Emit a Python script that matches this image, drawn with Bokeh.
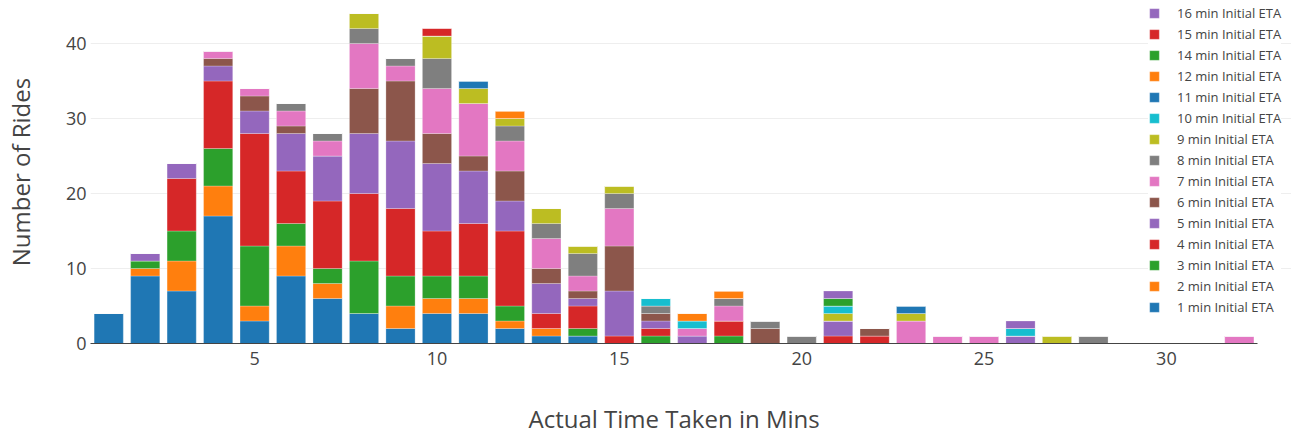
from bokeh.plotting import figure
from bokeh.models import ColumnDataSource, Legend, LegendItem, Range1d, FixedTicker, Title
from bokeh.embed import file_html
from bokeh.resources import INLINE

x = list(range(1, 33))

eta1 = [4, 9, 7, 17, 3, 9, 6, 4, 2, 4, 4, 2, 1, 1, 0, 0, 0, 0, 0, 0, 0, 0, 0, 0, 0, 0, 0, 0, 0, 0, 0, 0]
eta2 = [0, 1, 4, 4, 2, 4, 2, 0, 3, 2, 2, 1, 1, 0, 0, 0, 0, 0, 0, 0, 0, 0, 0, 0, 0, 0, 0, 0, 0, 0, 0, 0]
eta3 = [0, 1, 4, 5, 8, 3, 2, 7, 4, 3, 3, 2, 0, 1, 0, 1, 0, 1, 0, 0, 0, 0, 0, 0, 0, 0, 0, 0, 0, 0, 0, 0]
eta4 = [0, 0, 7, 9, 15, 7, 9, 9, 9, 6, 7, 10, 2, 3, 1, 1, 0, 2, 0, 0, 1, 1, 0, 0, 0, 0, 0, 0, 0, 0, 0, 0]
eta5 = [0, 1, 2, 2, 3, 5, 6, 8, 9, 9, 7, 4, 4, 1, 6, 1, 1, 0, 0, 0, 2, 0, 0, 0, 0, 1, 0, 0, 0, 0, 0, 0]
eta6 = [0, 0, 0, 1, 2, 1, 0, 6, 8, 4, 2, 4, 2, 1, 6, 1, 0, 0, 2, 0, 0, 1, 0, 0, 0, 0, 0, 0, 0, 0, 0, 0]
eta7 = [0, 0, 0, 1, 1, 2, 2, 6, 2, 6, 7, 4, 4, 2, 5, 0, 1, 2, 0, 0, 0, 0, 3, 1, 1, 0, 0, 0, 0, 0, 0, 1]
eta8 = [0, 0, 0, 0, 0, 1, 1, 2, 1, 4, 0, 2, 2, 3, 2, 1, 0, 1, 1, 1, 0, 0, 0, 0, 0, 0, 0, 1, 0, 0, 0, 0]
eta9 = [0, 0, 0, 0, 0, 0, 0, 2, 0, 3, 2, 1, 2, 1, 1, 0, 0, 0, 0, 0, 1, 0, 1, 0, 0, 0, 1, 0, 0, 0, 0, 0]
eta10 = [0, 0, 0, 0, 0, 0, 0, 0, 0, 0, 0, 0, 0, 0, 0, 1, 1, 0, 0, 0, 1, 0, 0, 0, 0, 1, 0, 0, 0, 0, 0, 0]
eta11 = [0, 0, 0, 0, 0, 0, 0, 0, 0, 0, 1, 0, 0, 0, 0, 0, 0, 0, 0, 0, 0, 0, 1, 0, 0, 0, 0, 0, 0, 0, 0, 0]
eta12 = [0, 0, 0, 0, 0, 0, 0, 0, 0, 0, 0, 1, 0, 0, 0, 0, 1, 1, 0, 0, 0, 0, 0, 0, 0, 0, 0, 0, 0, 0, 0, 0]
eta14 = [0, 0, 0, 0, 0, 0, 0, 0, 0, 0, 0, 0, 0, 0, 0, 0, 0, 0, 0, 0, 1, 0, 0, 0, 0, 0, 0, 0, 0, 0, 0, 0]
eta15 = [0, 0, 0, 0, 0, 0, 0, 0, 0, 1, 0, 0, 0, 0, 0, 0, 0, 0, 0, 0, 0, 0, 0, 0, 0, 0, 0, 0, 0, 0, 0, 0]
eta16 = [0, 0, 0, 0, 0, 0, 0, 0, 0, 0, 0, 0, 0, 0, 0, 0, 0, 0, 0, 0, 1, 0, 0, 0, 0, 1, 0, 0, 0, 0, 0, 0]

series_names = ["1 min Initial ETA", "2 min Initial ETA", "3 min Initial ETA", "4 min Initial ETA",
                "5 min Initial ETA", "6 min Initial ETA", "7 min Initial ETA", "8 min Initial ETA",
                "9 min Initial ETA", "10 min Initial ETA", "11 min Initial ETA", "12 min Initial ETA",
                "14 min Initial ETA", "15 min Initial ETA", "16 min Initial ETA"]
series_values = [eta1, eta2, eta3, eta4, eta5, eta6, eta7, eta8, eta9, eta10, eta11, eta12, eta14, eta15, eta16]
palette10 = ["#1f77b4", "#ff7f0e", "#2ca02c", "#d62728", "#9467bd",
             "#8c564b", "#e377c2", "#7f7f7f", "#bcbd22", "#17becf"]
colors = [palette10[i % 10] for i in range(len(series_names))]

x_ticks = [5, 10, 15, 20, 25, 30]
y_ticks = [0, 10, 20, 30, 40]

FONT = "Open Sans"
TXT = "#444444"

data = {"x": x}
keys = []
for i, vals in enumerate(series_values):
    k = f"s{i}"
    keys.append(k)
    data[k] = vals
source = ColumnDataSource(data)

p = figure(width=1291, height=434, output_backend="svg", toolbar_location=None,
           x_range=Range1d(0.5, 33.43), y_range=Range1d(0, 45.73),
           min_border_left=89, min_border_right=0, min_border_top=0, min_border_bottom=91)
p.outline_line_color = None
p.background_fill_color = "white"
p.border_fill_color = "white"

renderers = p.vbar_stack(keys, x="x", width=0.8, source=source, color=colors,
                         line_color="white", line_width=0.5, line_alpha=0.5)

# grid
p.xgrid.grid_line_color = None
p.ygrid.grid_line_color = "#eeeeee"
p.ygrid.grid_line_width = 1
p.ygrid.ticker = FixedTicker(ticks=[10, 20, 30, 40])

# x axis
p.xaxis.ticker = FixedTicker(ticks=x_ticks)
p.xaxis.bounds = (0.5, 32.5)
p.xaxis.axis_line_color = "#444444"
p.xaxis.axis_line_width = 1
p.xaxis.major_tick_line_color = None
p.xaxis.minor_tick_line_color = None
p.xaxis.major_tick_out = 0
p.xaxis.major_label_standoff = 8
p.xaxis.major_label_text_font = FONT
p.xaxis.major_label_text_font_size = "18px"
p.xaxis.major_label_text_color = TXT
# invisible spacer below the tick labels (keeps the title low without shrinking the plot)
p.xaxis.axis_label = " "
p.xaxis.axis_label_text_font_size = "1px"
p.xaxis.axis_label_text_alpha = 0
p.xaxis.axis_label_standoff = 28

x_title = Title(text="Actual Time Taken in Mins", align="left", offset=438, standoff=0,
                text_font=FONT, text_font_size="24px", text_font_style="normal", text_color=TXT)
p.add_layout(x_title, "below")

# y axis
p.yaxis.ticker = FixedTicker(ticks=y_ticks)
p.yaxis.axis_line_color = None
p.yaxis.major_tick_line_color = None
p.yaxis.minor_tick_line_color = None
p.yaxis.major_tick_out = 0
p.yaxis.major_label_standoff = 4
p.yaxis.major_label_text_font = FONT
p.yaxis.major_label_text_font_size = "18px"
p.yaxis.major_label_text_color = TXT
p.yaxis.axis_label = "Number of Rides"
p.yaxis.axis_label_text_font = FONT
p.yaxis.axis_label_text_font_size = "24px"
p.yaxis.axis_label_text_font_style = "normal"
p.yaxis.axis_label_text_color = TXT
p.yaxis.axis_label_standoff = 26

items = [LegendItem(label=series_names[i], renderers=[renderers[i]]) for i in range(len(series_names))]
items = items[::-1]
legend = Legend(items=items, location=(1058, 27), orientation="vertical",
                padding=0, margin=0, spacing=3, glyph_width=12, glyph_height=12,
                label_height=16, label_standoff=17,
                label_text_font=FONT, label_text_font_size="13px", label_text_color=TXT,
                border_line_color=None, background_fill_color="white", background_fill_alpha=1.0)
p.add_layout(legend, "center")

open("out.html", "w").write(file_html(p, INLINE))
